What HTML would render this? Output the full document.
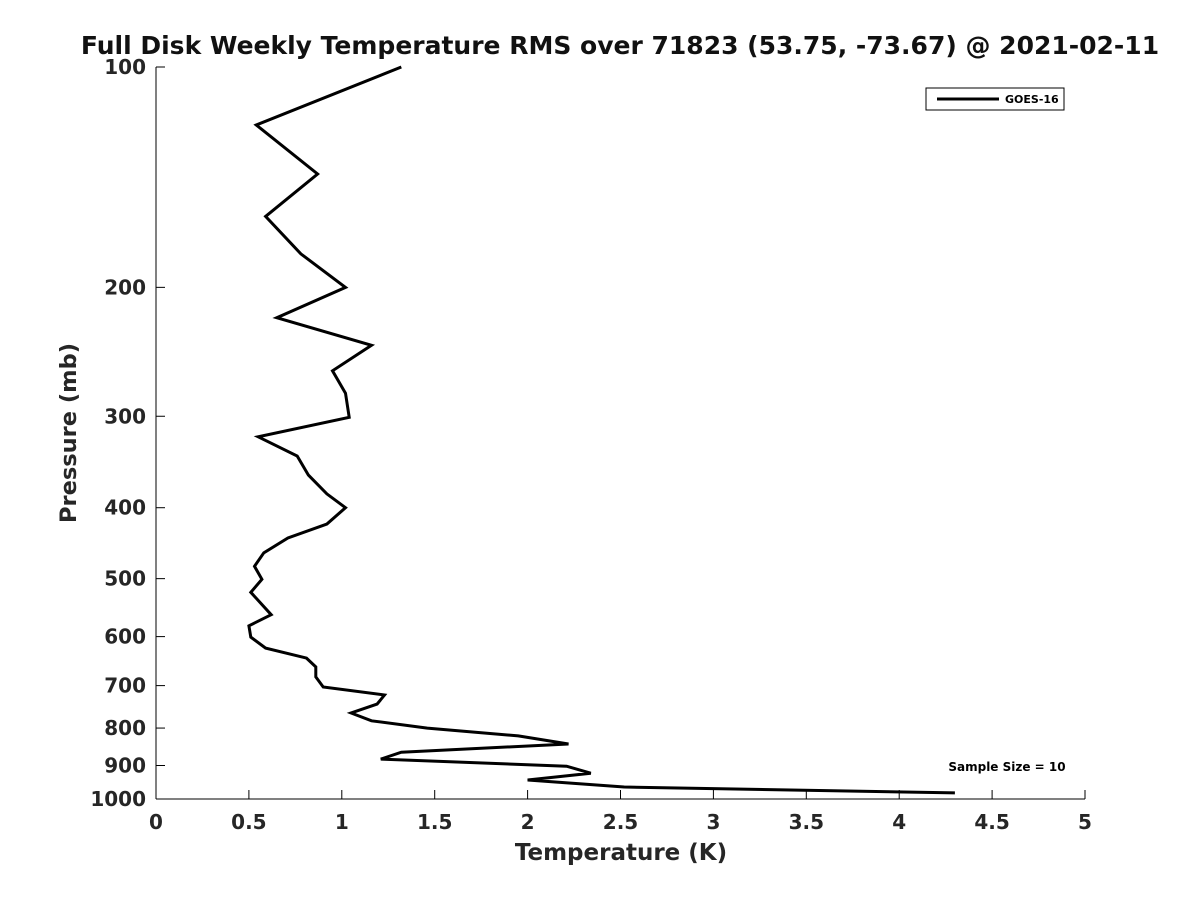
<!DOCTYPE html>
<html><head><meta charset="utf-8"><style>
body{margin:0;background:#fff;}
svg{display:block;font-family:"DejaVu Sans","Liberation Sans",sans-serif;}
</style></head><body>
<svg id="chart" width="1200" height="900" viewBox="0 0 1200 900" xmlns="http://www.w3.org/2000/svg">
<rect width="1200" height="900" fill="#fff"/>
<text x="620" y="54" text-anchor="middle" font-size="25" font-weight="bold" fill="#111">Full Disk Weekly Temperature RMS over 71823 (53.75, -73.67) @ 2021-02-11</text>
<g id="axes"></g>
<polyline id="series" fill="none" stroke="#000" stroke-width="3" stroke-linejoin="miter"/>
<g>
<rect x="926" y="88" width="138" height="22" fill="#fff" stroke="#000" stroke-width="1"/>
<line x1="937" y1="99" x2="999" y2="99" stroke="#000" stroke-width="3"/>
<text x="1005" y="103" font-size="11" font-weight="bold">GOES-16</text>
</g>
<text x="1007" y="771" text-anchor="middle" font-size="12" font-weight="bold">Sample Size = 10</text>
<text x="621" y="860" text-anchor="middle" font-size="23" font-weight="bold" fill="#262626">Temperature (K)</text>
<text x="0" y="0" transform="translate(76,433) rotate(-90)" text-anchor="middle" font-size="22.5" font-weight="bold" fill="#262626">Pressure (mb)</text>
</svg>
<script>
const temps = [1.32,0.54,0.87,0.59,0.78,1.02,0.65,1.16,0.95,1.02,1.04,0.55,0.76,0.82,0.92,1.02,0.92,0.71,0.58,0.53,0.57,0.51,0.62,0.50,0.51,0.59,0.81,0.86,0.86,0.90,1.23,1.19,1.05,1.16,1.46,1.95,2.22,1.32,1.21,2.21,2.34,2.00,2.52,4.30];
const pressures = [100,120,140,160,180,200,220,240,260,279,301,320,340,361,383,400,421,440,461,481,501,522,560,580,601,622,642,660,681,703,721,742,763,782,800,820,841,863,882,902,922,942,963,981];
const xTicks = [0,0.5,1,1.5,2,2.5,3,3.5,4,4.5,5];
const xTickLabels = ["0","0.5","1","1.5","2","2.5","3","3.5","4","4.5","5"];
const yTicks = [100,200,300,400,500,600,700,800,900,1000];
const yTickLabels = ["100","200","300","400","500","600","700","800","900","1000"];

const X0=156,X1=1085,Y0=67,Y1=799;
function xs(v){return X0+(v-0)/(5-0)*(X1-X0);}
function ys(p){return Y0+(Math.log10(p)-2)/(3-2)*(Y1-Y0);}
const NS="http://www.w3.org/2000/svg";
const axes=document.getElementById('axes');
function mk(tag,attrs){const e=document.createElementNS(NS,tag);for(const k in attrs)e.setAttribute(k,attrs[k]);return e;}
const xa=mk('line',{x1:X0,y1:Y1,x2:X1,y2:Y1,stroke:'#000','stroke-width':1});


axes.appendChild(xa);
const ya=mk('line',{x1:X0,y1:Y0,x2:X0,y2:Y1,stroke:'#000','stroke-width':1});


axes.appendChild(ya);
xTicks.forEach((t,i)=>{
  const x=xs(t);
  const l=mk('line',{x1:x,y1:Y1,x2:x,y2:Y1-9,stroke:'#000','stroke-width':1});
  
  
  axes.appendChild(l);
  const tx=mk('text',{x:x,y:Y1+30,'text-anchor':'middle','font-size':20,'font-weight':'bold',fill:'#262626'});
  
  
  tx.textContent=xTickLabels[i];axes.appendChild(tx);
});
yTicks.forEach((t,i)=>{
  const y=ys(t);
  const l=mk('line',{x1:X0,y1:y,x2:X0+9,y2:y,stroke:'#000','stroke-width':1});
  
  
  axes.appendChild(l);
  const tx=mk('text',{x:X0-10,y:y+7,'text-anchor':'end','font-size':20,'font-weight':'bold',fill:'#262626'});
  
  
  tx.textContent=yTickLabels[i];axes.appendChild(tx);
});
document.getElementById('series').setAttribute('points',temps.map((t,i)=>xs(t).toFixed(1)+','+ys(pressures[i]).toFixed(1)).join(' '));
</script>
</body></html>
